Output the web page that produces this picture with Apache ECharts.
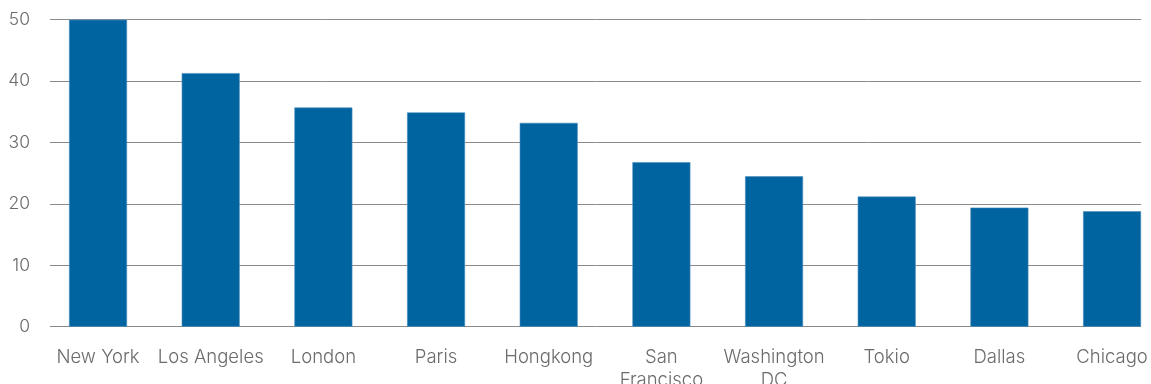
<!DOCTYPE html>
<html><head><meta charset="utf-8">
<script src="https://cdn.jsdelivr.net/npm/echarts@6/dist/echarts.min.js"></script>
<style>html,body{margin:0;padding:0;background:#fff}#c{width:1151px;height:384px}</style>
</head><body><div id="c"></div>
<script>
const categories = ['New York','Los Angeles','London','Paris','Hongkong','San\nFrancisco','Washington\nDC','Tokio','Dallas','Chicago'];
const values = [50, 41.3, 35.7, 34.9, 33.2, 26.8, 24.5, 21.2, 19.4, 18.8];
const yTicks = [0, 10, 20, 30, 40, 50];

const font = 'Inter';
const chart = echarts.init(document.getElementById('c'));
chart.setOption({
  animation: false,
  grid: [
    {left: 50, right: 10, top: 19.7, bottom: 57.3, outerBoundsMode: 'none', containLabel: false},
    {left: 41.7, right: -17.4, top: 19.7, bottom: 57.3, outerBoundsMode: 'none', containLabel: false}
  ],
  xAxis: [
    {type: 'category', gridIndex: 0, data: categories, show: false},
    {type: 'category', gridIndex: 1, data: categories,
     axisLine: {show: false}, axisTick: {show: false},
     axisLabel: {interval: 0, color: '#6b6b6b', fontFamily: font, fontWeight: 300, fontSize: 18.5, margin: 19.5, lineHeight: 22.5}}
  ],
  yAxis: [
    {type: 'value', gridIndex: 0, min: yTicks[0], max: yTicks[yTicks.length-1], interval: 10,
     axisLine: {show: false}, axisTick: {show: false},
     splitLine: {lineStyle: {color: '#8a8a8a', width: 1}},
     axisLabel: {color: '#6b6b6b', fontFamily: font, fontWeight: 300, fontSize: 17.5, margin: 20}},
    {type: 'value', gridIndex: 1, min: yTicks[0], max: yTicks[yTicks.length-1], interval: 10, show: false}
  ],
  series: [{
    type: 'bar', xAxisIndex: 1, yAxisIndex: 1, data: values, barWidth: 58,
    itemStyle: {color: '#0064a0', borderColor: '#4d8fc0', borderWidth: 0.6}
  }]
});
</script></body></html>
